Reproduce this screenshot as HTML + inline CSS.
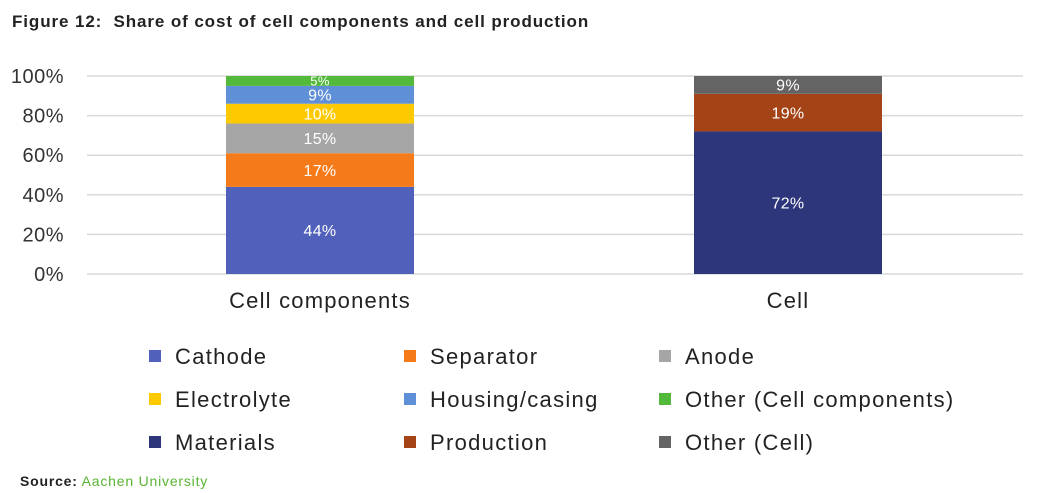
<!DOCTYPE html>
<html><head><meta charset="utf-8"><style>
body{margin:0;width:1043px;height:493px;background:#fff;font-family:"Liberation Sans",sans-serif;overflow:hidden;position:relative}
.t{position:absolute;left:12px;top:12px;font-size:17px;font-weight:bold;color:#222;letter-spacing:0.9px}
.s{position:absolute;left:20px;top:473px;font-size:14px;color:#222;letter-spacing:0.8px}
.s b{color:#222}.s span{color:#5ab332}
</style></head><body>
<div class="t">Figure 12:&nbsp; Share of cost of cell components and cell production</div>
<svg id="c" width="1043" height="493" style="position:absolute;left:0;top:0"></svg>
<div class="s"><b>Source:</b> <span>Aachen University</span></div>
<script>
const categories=["Cell components","Cell"];
const seriesNames=[["Cathode","Separator","Anode","Electrolyte","Housing/casing","Other (Cell components)"],["Materials","Production","Other (Cell)"]];
const seriesValues=[[44,17,15,10,9,5],[72,19,9]];
const seriesColors=[["#5060bb","#f47a1a","#a6a6a6","#fdc900","#5f8fd6","#53b93b"],["#2d367a","#a34316","#636463"]];
const ticks=[0,20,40,60,80,100];
const legendOrder=[["Cathode","#5060bb"],["Separator","#f47a1a"],["Anode","#a6a6a6"],["Electrolyte","#fdc900"],["Housing/casing","#5f8fd6"],["Other (Cell components)","#53b93b"],["Materials","#2d367a"],["Production","#a34316"],["Other (Cell)","#636463"]];
const NS="http://www.w3.org/2000/svg",svg=document.getElementById('c');
const y0=274,y1=76,yS=v=>y0-(y0-y1)*v/100;
const xC=i=>320+i*468,bw=188;
function mk(t,a,txt){const e=document.createElementNS(NS,t);for(const k in a)e.setAttribute(k,a[k]);if(txt!=null)e.textContent=txt;svg.appendChild(e);return e;}
ticks.forEach(v=>{
 const l=mk('line',{x1:87,x2:1023,y1:yS(v),y2:yS(v),stroke:'#d9d9d9','stroke-width':1.5});
 
 
 const t=mk('text',{x:64,y:yS(v)+7,'text-anchor':'end','font-size':20,fill:'#333','letter-spacing':0.5},v+'%');
 
 
});
categories.forEach((c,i)=>{
 let acc=0;
 seriesValues[i].forEach((v,j)=>{
  const top=yS(acc+v),bot=yS(acc);
  const r=mk('rect',{x:xC(i)-bw/2,y:top,width:bw,height:bot-top,fill:seriesColors[i][j]});
  
  
  const fs=v<7?13:16;
  const t=mk('text',{x:xC(i),y:(top+bot)/2+fs*0.36,'text-anchor':'middle','font-size':fs,fill:'#fff','letter-spacing':0.3},v+'%');
  
  
  acc+=v;
 });
 const t=mk('text',{x:xC(i),y:308,'text-anchor':'middle','font-size':22,fill:'#222','letter-spacing':1.2},c);
 
 
});
legendOrder.forEach((l,k)=>{
 const col=k%3,row=Math.floor(k/3),x=149+col*255,y=356+row*43;
 const r=mk('rect',{x:x,y:y-6,width:12,height:12,fill:l[1]});
 
 
 const t=mk('text',{x:x+26,y:y+8,'font-size':22,fill:'#222','letter-spacing':1.3},l[0]);
 
 
});
</script>
</body></html>
